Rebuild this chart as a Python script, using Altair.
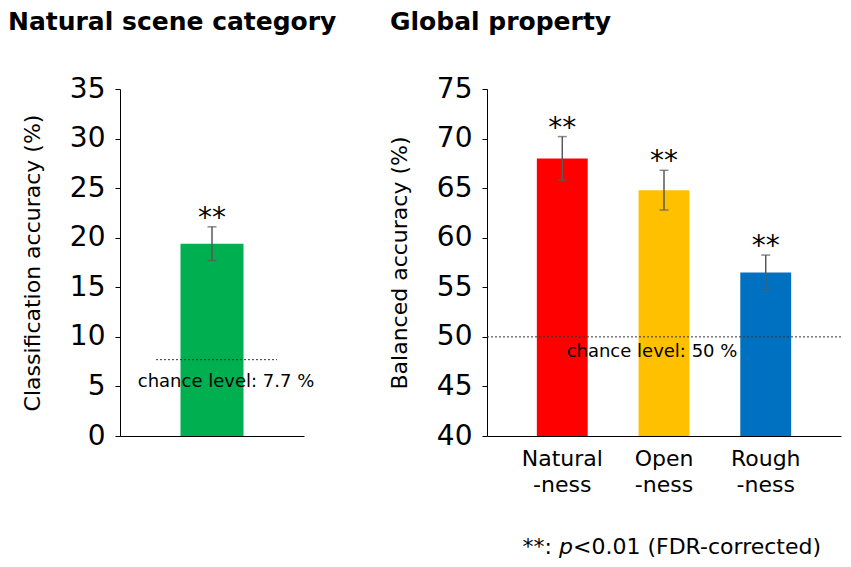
import altair as alt
import pandas as pd

FONT = "DejaVu Sans"

# ---- data ----
scene_cat = ["Natural scene"]
scene_mean = [19.4]
scene_err = [1.7]
scene_sig = ["**"]
scene_colors = ["#00B050"]
scene_chance = [7.7]
scene_chance_label = ["chance level: 7.7 %"]

props = ["Natural\n-ness", "Open\n-ness", "Rough\n-ness"]
prop_mean = [68.0, 64.8, 56.5]
prop_err = [2.2, 2.0, 1.75]
prop_sig = ["**", "**", "**"]
prop_colors = ["#FF0000", "#FFC000", "#0070C0"]
prop_chance = [50]
prop_chance_label = ["chance level: 50 %"]

left_ticks = [0, 5, 10, 15, 20, 25, 30, 35]
right_ticks = [40, 45, 50, 55, 60, 65, 70, 75]

footnote_a = ["**:"]
footnote_p = ["p"]
footnote_b = ["<0.01 (FDR-corrected)"]

ERR_COLOR = "#595959"


def make_panel(cats, means, errs, sigs, colors, chance, chance_label,
               domain, ticks, ytitle, w, h, pad_outer, show_xlabels,
               line_x, line_x2, label_x, label_dy, title, title_dx):
    df = pd.DataFrame({"cat": cats, "mean": means, "err": errs, "sig": sigs})
    df["lo"] = df["mean"] - df["err"]
    df["hi"] = df["mean"] + df["err"]

    xscale = alt.Scale(domain=cats, paddingInner=0.5, paddingOuter=pad_outer)
    yscale = alt.Scale(domain=domain, nice=False, zero=False)
    xaxis = alt.Axis(
        title=None, ticks=False, labels=show_xlabels, labelAngle=0,
        labelExpr="split(datum.label, '\\n')", labelLineHeight=26,
        labelFont=FONT, labelFontSize=22, labelColor="black", labelPadding=12,
        domainColor="black", domainWidth=1,
    )
    yaxis = alt.Axis(
        title=ytitle, values=ticks, grid=False, tickSize=5, tickColor="black",
        domainColor="black", domainWidth=1, labelFont=FONT, labelFontSize=28,
        labelColor="black", labelPadding=10, titleFont=FONT, titleFontSize=22,
        titleFontWeight="normal", titleColor="black", titlePadding=25,
    )

    base = alt.Chart(df)
    bars = base.mark_bar().encode(
        x=alt.X("cat:N", scale=xscale, axis=xaxis, sort=cats),
        y=alt.Y("mean:Q", scale=yscale, axis=yaxis),
        y2=alt.datum(domain[0]),
        color=alt.Color("cat:N", scale=alt.Scale(domain=cats, range=colors), legend=None),
    )
    err = base.mark_rule(color=ERR_COLOR, strokeWidth=1.5).encode(
        x=alt.X("cat:N", sort=cats),
        y=alt.Y("lo:Q", title=ytitle),
        y2="hi:Q",
    )
    cap_hi = base.mark_tick(color=ERR_COLOR, thickness=1.5, size=9).encode(
        x=alt.X("cat:N", sort=cats), y=alt.Y("hi:Q", title=ytitle)
    )
    cap_lo = base.mark_tick(color=ERR_COLOR, thickness=1.5, size=9).encode(
        x=alt.X("cat:N", sort=cats), y=alt.Y("lo:Q", title=ytitle)
    )
    stars = base.mark_text(font=FONT, fontSize=28, baseline="alphabetic",
                           color="black").encode(
        x=alt.X("cat:N", sort=cats), y=alt.Y("hi:Q", title=ytitle), text="sig:N"
    )
    cdf = pd.DataFrame({"chance": chance, "label": chance_label})
    cline = alt.Chart(cdf).mark_rule(color="#333333", strokeWidth=1,
                                     strokeDash=[2, 2]).encode(
        y=alt.Y("chance:Q", title=ytitle), x=alt.value(line_x), x2=alt.value(line_x2)
    )
    ctext = alt.Chart(cdf).mark_text(font=FONT, fontSize=18, baseline="middle",
                                     align="center", dy=label_dy,
                                     color="black").encode(
        y=alt.Y("chance:Q", title=ytitle), x=alt.value(label_x), text="label:N"
    )
    layers = [bars, err, cap_hi, cap_lo, stars, cline, ctext]
    return layers, w, h, title, title_dx


def finish(layers, w, h, title, title_dx):
    return alt.layer(*layers).properties(
        width=w, height=h,
        title=alt.TitleParams(
            text=title, anchor="start", frame="group", dx=title_dx,
            font=FONT, fontSize=25, fontWeight="bold", color="black",
            baseline="alphabetic", offset=20,
        ),
    )


l_layers, lw, lh, lt, ldx = make_panel(
    scene_cat, scene_mean, scene_err, scene_sig, scene_colors, scene_chance,
    scene_chance_label, [0, 35], left_ticks, "Classification accuracy (%)",
    184, 347, 0.48, False, 36, 157, 106, 22, "Natural scene category", -112)
left = finish(l_layers, lw, lh, lt, ldx)

r_layers, rw, rh, rt, rdx = make_panel(
    props, prop_mean, prop_err, prop_sig, prop_colors, prop_chance,
    prop_chance_label, [40, 75], right_ticks, "Balanced accuracy (%)",
    354, 347, 0.49, True, 0, 354, 165, 15, "Global property", -97)

fa = alt.Chart(pd.DataFrame({"t": footnote_a})).mark_text(
    font=FONT, fontSize=22, align="right", baseline="middle", color="black"
).encode(x=alt.value(65), y=alt.value(458), text="t:N")
fp = alt.Chart(pd.DataFrame({"t": footnote_p})).mark_text(
    font=FONT, fontSize=22, align="left", baseline="middle", fontStyle="italic",
    color="black"
).encode(x=alt.value(72), y=alt.value(458), text="t:N")
fb = alt.Chart(pd.DataFrame({"t": footnote_b})).mark_text(
    font=FONT, fontSize=22, align="left", baseline="middle", color="black"
).encode(x=alt.value(86), y=alt.value(458), text="t:N")
right = finish(r_layers + [fa, fp, fb], rw, rh, rt, rdx)

chart = alt.hconcat(left, right, spacing=183, bounds="flush").properties(
    padding={"top": 2, "left": 0, "right": 0, "bottom": 0}
).configure_view(stroke=None).resolve_scale(color="independent")

chart.save("out.html", embed_options={"renderer": "svg", "actions": False})
